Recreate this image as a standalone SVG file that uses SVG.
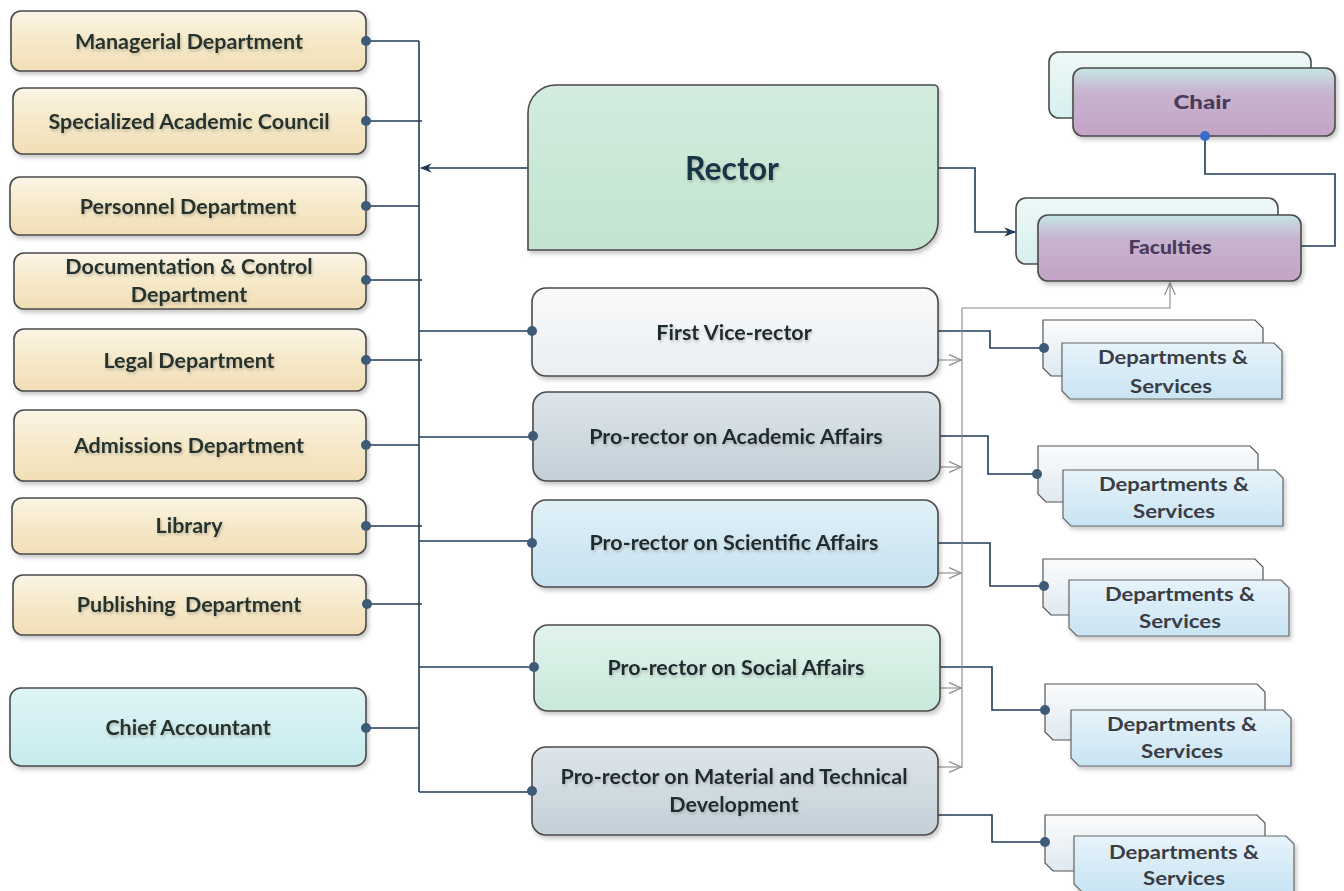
<svg xmlns="http://www.w3.org/2000/svg" width="1344" height="891" viewBox="0 0 1344 891">
  <defs>
    <style>
      .lbl { font-family: Lato, "Open Sans", "Liberation Sans", sans-serif; font-weight: bold; fill: #26332d; text-anchor: middle; font-size: 21.5px; }
      .mid { fill: #1f2a33; }
      .small { font-family: Lato, "Liberation Sans", sans-serif; font-weight: bold; text-anchor: middle; font-size: 18px; fill: #3b3d45; }
      .purple { font-family: Lato, "Liberation Sans", sans-serif; font-weight: 900; text-anchor: middle; font-size: 18px; fill: #4a3a5a; }
      .box { stroke: #4b4b4b; stroke-width: 1.6; }
      .link { fill: none; stroke: #1f3b57; stroke-width: 1.6; }
      .thin { fill: none; stroke: #8a8a8a; stroke-width: 1.1; }
      .dot { fill: #3d5a76; }
    </style>
    <filter id="shadow" x="-5%" y="-10%" width="115%" height="130%">
      <feDropShadow dx="2" dy="3" stdDeviation="2" flood-color="#000" flood-opacity="0.22"/>
    </filter>
    <filter id="txtshadow" x="-5%" y="-20%" width="110%" height="150%">
      <feDropShadow dx="1" dy="2" stdDeviation="1.5" flood-color="#7a7a6a" flood-opacity="0.45"/>
    </filter>
    <linearGradient id="gCream" x1="0" y1="0" x2="0" y2="1">
      <stop offset="0" stop-color="#fbf5e6"/>
      <stop offset="0.5" stop-color="#f6e9c9"/>
      <stop offset="1" stop-color="#f1deb6"/>
    </linearGradient>
    <linearGradient id="gCyan" x1="0" y1="0" x2="0" y2="1">
      <stop offset="0" stop-color="#dff5f6"/>
      <stop offset="1" stop-color="#c7ebee"/>
    </linearGradient>
    <linearGradient id="gRector" x1="0" y1="0" x2="0" y2="1">
      <stop offset="0" stop-color="#d3ecde"/>
      <stop offset="1" stop-color="#c2e4d0"/>
    </linearGradient>
    <linearGradient id="gWhite" x1="0" y1="0" x2="0" y2="1">
      <stop offset="0" stop-color="#f9fafb"/>
      <stop offset="1" stop-color="#eaeef2"/>
    </linearGradient>
    <linearGradient id="gSteel" x1="0" y1="0" x2="0" y2="1">
      <stop offset="0" stop-color="#dde5ea"/>
      <stop offset="1" stop-color="#c3d0d8"/>
    </linearGradient>
    <linearGradient id="gBlue" x1="0" y1="0" x2="0" y2="1">
      <stop offset="0" stop-color="#e0f0f8"/>
      <stop offset="1" stop-color="#c6e2f0"/>
    </linearGradient>
    <linearGradient id="gGreen" x1="0" y1="0" x2="0" y2="1">
      <stop offset="0" stop-color="#e2f4ec"/>
      <stop offset="1" stop-color="#c8e8da"/>
    </linearGradient>
    <linearGradient id="gPurple" x1="0" y1="0" x2="0" y2="1">
      <stop offset="0" stop-color="#c6e6e6"/>
      <stop offset="0.35" stop-color="#c7b4cf"/>
      <stop offset="1" stop-color="#c4a4c6"/>
    </linearGradient>
    <linearGradient id="gPale" x1="0" y1="0" x2="0" y2="1">
      <stop offset="0" stop-color="#eef9f8"/>
      <stop offset="1" stop-color="#d6efee"/>
    </linearGradient>
    <linearGradient id="gDeptBack" x1="0" y1="0" x2="0" y2="1">
      <stop offset="0" stop-color="#fbfcfd"/>
      <stop offset="1" stop-color="#dfe9f0"/>
    </linearGradient>
    <linearGradient id="gDeptFront" x1="0" y1="0" x2="0" y2="1">
      <stop offset="0" stop-color="#e6f3fa"/>
      <stop offset="1" stop-color="#c9e4f3"/>
    </linearGradient>
    <!-- chamfered card: top-right and bottom-left corners cut -->
    <path id="card" d="M0,0 H212 L220,8 V56 H8 L0,48 Z"/>
    <marker id="arrowFill" viewBox="0 0 10 10" refX="9" refY="5" markerWidth="12" markerHeight="12" orient="auto-start-reverse" markerUnits="userSpaceOnUse">
      <path d="M0,1 L10,5 L0,9 L3,5 Z" fill="#1f3b57"/>
    </marker>
    <marker id="arrowOpen" viewBox="0 0 12 12" refX="11" refY="6" markerWidth="13" markerHeight="13" orient="auto" markerUnits="userSpaceOnUse">
      <path d="M0,1 L11,6 L0,11" fill="none" stroke="#8a8a8a" stroke-width="1.1"/>
    </marker>
  </defs>

  <rect width="1344" height="891" fill="#ffffff"/>

  <!-- connectors -->
  <g id="connectors">
    <!-- main bus -->
    <path class="link" d="M419,41 V792"/>
    <path class="link" d="M366,41 H419"/>
    <path class="link" d="M366,121 H422"/>
    <path class="link" d="M366,206 H419"/>
    <path class="link" d="M366,280 H422"/>
    <path class="link" d="M366,360 H422"/>
    <path class="link" d="M366,445 H419"/>
    <path class="link" d="M366,526 H422"/>
    <path class="link" d="M367,604 H422"/>
    <path class="link" d="M366,728 H419"/>
    <path class="link" d="M528,168 H421" marker-end="url(#arrowFill)"/>
    <path class="link" d="M419,331 H532"/>
    <path class="link" d="M419,437 H533"/>
    <path class="link" d="M419,541 H532"/>
    <path class="link" d="M419,667 H534"/>
    <path class="link" d="M419,792 H532"/>
    <!-- rector to faculties -->
    <path class="link" d="M938,168 H975 V232 H1015" marker-end="url(#arrowFill)"/>
    <!-- chair to faculties -->
    <path class="link" d="M1205,136 V174 H1335 V246 H1301"/>
    <!-- vice-rectors to departments -->
    <path class="link" d="M938,331 H990 V348 H1044"/>
    <path class="link" d="M940,436 H988 V474 H1037"/>
    <path class="link" d="M938,543 H990 V586 H1044"/>
    <path class="link" d="M940,667 H992 V710 H1045"/>
    <path class="link" d="M938,815 H992 V842 H1045"/>
    <!-- thin feed lines to faculties -->
    <path class="thin" d="M962,768 V308 H1170 V283" marker-end="url(#arrowOpen)"/>
    <path class="thin" d="M938,360 H961" marker-end="url(#arrowOpen)"/>
    <path class="thin" d="M940,467 H961" marker-end="url(#arrowOpen)"/>
    <path class="thin" d="M938,573 H961" marker-end="url(#arrowOpen)"/>
    <path class="thin" d="M940,688 H961" marker-end="url(#arrowOpen)"/>
    <path class="thin" d="M938,767 H961" marker-end="url(#arrowOpen)"/>
  </g>

  <!-- left column -->
  <g id="managerial">
    <rect class="box" x="11" y="11" width="355" height="60" rx="10" fill="url(#gCream)" filter="url(#shadow)"/>
    <text class="lbl" x="189" y="49" filter="url(#txtshadow)">Managerial Department</text>
  </g>
  <g id="academic-council">
    <rect class="box" x="13" y="88" width="353" height="66" rx="10" fill="url(#gCream)" filter="url(#shadow)"/>
    <text class="lbl" x="189" y="129" filter="url(#txtshadow)">Specialized Academic Council</text>
  </g>
  <g id="personnel">
    <rect class="box" x="10" y="177" width="356" height="58" rx="10" fill="url(#gCream)" filter="url(#shadow)"/>
    <text class="lbl" x="188" y="214" filter="url(#txtshadow)">Personnel Department</text>
  </g>
  <g id="documentation">
    <rect class="box" x="14" y="253" width="352" height="56" rx="10" fill="url(#gCream)" filter="url(#shadow)"/>
    <text class="lbl" x="189" y="274" filter="url(#txtshadow)">Documentation &amp; Control</text>
    <text class="lbl" x="189" y="302" filter="url(#txtshadow)">Department</text>
  </g>
  <g id="legal">
    <rect class="box" x="14" y="329" width="352" height="62" rx="10" fill="url(#gCream)" filter="url(#shadow)"/>
    <text class="lbl" x="189" y="368" filter="url(#txtshadow)">Legal Department</text>
  </g>
  <g id="admissions">
    <rect class="box" x="14" y="410" width="352" height="71" rx="10" fill="url(#gCream)" filter="url(#shadow)"/>
    <text class="lbl" x="189" y="453" filter="url(#txtshadow)">Admissions Department</text>
  </g>
  <g id="library">
    <rect class="box" x="12" y="498" width="354" height="56" rx="10" fill="url(#gCream)" filter="url(#shadow)"/>
    <text class="lbl" x="189" y="533" filter="url(#txtshadow)">Library</text>
  </g>
  <g id="publishing">
    <rect class="box" x="13" y="575" width="353" height="60" rx="10" fill="url(#gCream)" filter="url(#shadow)"/>
    <text class="lbl" x="189" y="612" filter="url(#txtshadow)" style="word-spacing:4px">Publishing Department</text>
  </g>
  <g id="chief-accountant">
    <rect class="box" x="10" y="688" width="356" height="78" rx="11" fill="url(#gCyan)" filter="url(#shadow)"/>
    <text class="lbl" x="188" y="735" filter="url(#txtshadow)">Chief Accountant</text>
  </g>

  <!-- centre column -->
  <g id="rector">
    <path class="box" d="M528,250 V113 A28,28 0 0 1 556,85 H934 A4,4 0 0 1 938,89 V222 A28,28 0 0 1 910,250 Z" fill="url(#gRector)" filter="url(#shadow)"/>
    <text class="lbl" x="732" y="180" style="font-size:32px; fill:#173446" filter="url(#txtshadow)">Rector</text>
  </g>
  <g id="first-vice-rector">
    <rect class="box" x="532" y="288" width="406" height="88" rx="14" fill="url(#gWhite)" filter="url(#shadow)"/>
    <text class="lbl mid" x="734" y="340" filter="url(#txtshadow)">First Vice-rector</text>
  </g>
  <g id="academic-affairs">
    <rect class="box" x="533" y="392" width="407" height="89" rx="14" fill="url(#gSteel)" filter="url(#shadow)"/>
    <text class="lbl mid" x="736" y="444" filter="url(#txtshadow)">Pro-rector on Academic Affairs</text>
  </g>
  <g id="scientific-affairs">
    <rect class="box" x="532" y="500" width="406" height="87" rx="14" fill="url(#gBlue)" filter="url(#shadow)"/>
    <text class="lbl mid" x="734" y="550" filter="url(#txtshadow)">Pro-rector on Scientific Affairs</text>
  </g>
  <g id="social-affairs">
    <rect class="box" x="534" y="625" width="406" height="86" rx="14" fill="url(#gGreen)" filter="url(#shadow)"/>
    <text class="lbl mid" x="736" y="675" filter="url(#txtshadow)">Pro-rector on Social Affairs</text>
  </g>
  <g id="material-technical">
    <rect class="box" x="532" y="747" width="406" height="88" rx="14" fill="url(#gSteel)" filter="url(#shadow)"/>
    <text class="lbl mid" x="734" y="784" filter="url(#txtshadow)">Pro-rector on Material and Technical</text>
    <text class="lbl mid" x="734" y="812" filter="url(#txtshadow)">Development</text>
  </g>

  <!-- right column -->
  <g id="chair">
    <rect class="box" x="1049" y="52" width="262" height="66" rx="10" fill="url(#gPale)" stroke-width="1.2"/>
    <rect class="box" x="1073" y="68" width="262" height="68" rx="10" fill="url(#gPurple)" filter="url(#shadow)" stroke-width="1.2"/>
    <text class="purple" x="1202" y="109" textLength="57" lengthAdjust="spacingAndGlyphs">Chair</text>
  </g>
  <g id="faculties">
    <rect class="box" x="1016" y="198" width="262" height="66" rx="10" fill="url(#gPale)" stroke-width="1.2"/>
    <rect class="box" x="1038" y="215" width="263" height="66" rx="10" fill="url(#gPurple)" filter="url(#shadow)" stroke-width="1.2"/>
    <text class="purple" x="1170" y="254" textLength="83" lengthAdjust="spacingAndGlyphs">Faculties</text>
  </g>

  <g id="departments-1">
    <use href="#card" transform="translate(1043,320)" fill="url(#gDeptBack)" stroke="#555" stroke-width="1.2"/>
    <use href="#card" transform="translate(1062,343)" fill="url(#gDeptFront)" stroke="#666" stroke-width="1.2" filter="url(#shadow)"/>
    <text class="small" x="1173" y="364" textLength="150" lengthAdjust="spacingAndGlyphs">Departments &amp;</text>
    <text class="small" x="1171" y="393" textLength="82" lengthAdjust="spacingAndGlyphs">Services</text>
  </g>
  <g id="departments-2">
    <use href="#card" transform="translate(1038,446)" fill="url(#gDeptBack)" stroke="#555" stroke-width="1.2"/>
    <use href="#card" transform="translate(1063,470)" fill="url(#gDeptFront)" stroke="#666" stroke-width="1.2" filter="url(#shadow)"/>
    <text class="small" x="1174" y="491" textLength="150" lengthAdjust="spacingAndGlyphs">Departments &amp;</text>
    <text class="small" x="1174" y="518" textLength="82" lengthAdjust="spacingAndGlyphs">Services</text>
  </g>
  <g id="departments-3">
    <use href="#card" transform="translate(1043,559)" fill="url(#gDeptBack)" stroke="#555" stroke-width="1.2"/>
    <use href="#card" transform="translate(1069,580)" fill="url(#gDeptFront)" stroke="#666" stroke-width="1.2" filter="url(#shadow)"/>
    <text class="small" x="1180" y="601" textLength="150" lengthAdjust="spacingAndGlyphs">Departments &amp;</text>
    <text class="small" x="1180" y="628" textLength="82" lengthAdjust="spacingAndGlyphs">Services</text>
  </g>
  <g id="departments-4">
    <use href="#card" transform="translate(1045,684)" fill="url(#gDeptBack)" stroke="#555" stroke-width="1.2"/>
    <use href="#card" transform="translate(1071,710)" fill="url(#gDeptFront)" stroke="#666" stroke-width="1.2" filter="url(#shadow)"/>
    <text class="small" x="1182" y="731" textLength="150" lengthAdjust="spacingAndGlyphs">Departments &amp;</text>
    <text class="small" x="1182" y="758" textLength="82" lengthAdjust="spacingAndGlyphs">Services</text>
  </g>
  <g id="departments-5">
    <use href="#card" transform="translate(1045,815)" fill="url(#gDeptBack)" stroke="#555" stroke-width="1.2"/>
    <use href="#card" transform="translate(1074,836)" fill="url(#gDeptFront)" stroke="#666" stroke-width="1.2" filter="url(#shadow)"/>
    <text class="small" x="1184" y="859" textLength="150" lengthAdjust="spacingAndGlyphs">Departments &amp;</text>
    <text class="small" x="1184" y="885" textLength="82" lengthAdjust="spacingAndGlyphs">Services</text>
  </g>

  <!-- connection dots -->
  <g id="dots">
    <circle class="dot" cx="366" cy="41" r="5"/>
    <circle class="dot" cx="366" cy="121" r="5"/>
    <circle class="dot" cx="366" cy="206" r="5"/>
    <circle class="dot" cx="366" cy="280" r="5"/>
    <circle class="dot" cx="366" cy="360" r="5"/>
    <circle class="dot" cx="366" cy="445" r="5"/>
    <circle class="dot" cx="366" cy="526" r="5"/>
    <circle class="dot" cx="367" cy="604" r="5"/>
    <circle class="dot" cx="366" cy="728" r="5"/>
    <circle class="dot" cx="532" cy="331" r="5"/>
    <circle class="dot" cx="533" cy="436" r="5"/>
    <circle class="dot" cx="532" cy="543" r="5"/>
    <circle class="dot" cx="534" cy="667" r="5"/>
    <circle class="dot" cx="532" cy="791" r="5"/>
    <circle class="dot" cx="1044" cy="348" r="5"/>
    <circle class="dot" cx="1037" cy="474" r="5"/>
    <circle class="dot" cx="1044" cy="586" r="5"/>
    <circle class="dot" cx="1045" cy="710" r="5"/>
    <circle class="dot" cx="1045" cy="842" r="5"/>
    <circle cx="1205" cy="136" r="5" fill="#3b6cc8"/>
  </g>
</svg>
